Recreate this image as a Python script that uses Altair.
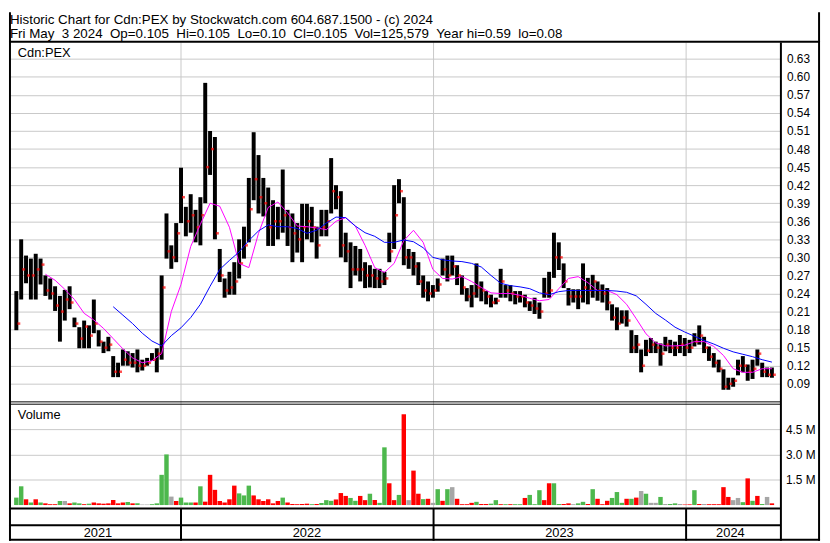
import altair as alt
import pandas as pd

# ---------- layout helpers (reference pixel -> chart pixel) ----------
SX = 822 / 830
SY = 535 / 543


def X(v):
    return round(v * SX, 2)


def Y(v):
    return round(v * SY, 2)


FONT = "Liberation Sans"

# ---------- data (weekly) ----------
first_week = "2021-05-08"

hi = [0.244, 0.33, 0.303, 0.298, 0.306, 0.298, 0.27, 0.265, 0.252, 0.236,
      0.246, 0.252, 0.20, 0.184, 0.195, 0.187, 0.23, 0.179, 0.16, 0.168,
      0.136, 0.125, 0.147, 0.144, 0.141, 0.147, 0.13, 0.133, 0.141, 0.149,
      0.27, 0.373, 0.32, 0.357, 0.449, 0.384, 0.405, 0.379, 0.40, 0.59,
      0.51, 0.50, 0.314, 0.265, 0.276, 0.292, 0.33, 0.351, 0.432, 0.508,
      0.47, 0.432, 0.416, 0.395, 0.384, 0.446, 0.379, 0.373, 0.357, 0.389,
      0.389, 0.384, 0.351, 0.379, 0.379, 0.465, 0.42, 0.41, 0.341, 0.325,
      0.319, 0.314, 0.292, 0.287, 0.281, 0.281, 0.276, 0.341, 0.42, 0.43,
      0.40, 0.314, 0.309, 0.292, 0.27, 0.26, 0.254, 0.265, 0.298, 0.303,
      0.303, 0.287, 0.27, 0.249, 0.254, 0.29, 0.26, 0.244, 0.238, 0.233,
      0.281, 0.254, 0.254, 0.244, 0.244, 0.238, 0.227, 0.233, 0.225, 0.266,
      0.276, 0.341, 0.325, 0.29, 0.249, 0.247, 0.247, 0.29, 0.266, 0.271,
      0.26, 0.255, 0.249, 0.222, 0.217, 0.212, 0.212, 0.179, 0.171, 0.147,
      0.163, 0.166, 0.16, 0.157, 0.168, 0.163, 0.16, 0.171, 0.166, 0.163,
      0.174, 0.187, 0.168, 0.152, 0.141, 0.13, 0.114, 0.10, 0.10, 0.13,
      0.136, 0.122, 0.13, 0.147, 0.125, 0.117, 0.117]

lo = [0.179, 0.23, 0.257, 0.23, 0.23, 0.255, 0.236, 0.23, 0.211, 0.16,
      0.195, 0.214, 0.184, 0.149, 0.149, 0.149, 0.174, 0.152, 0.141, 0.144,
      0.101, 0.101, 0.12, 0.12, 0.117, 0.109, 0.112, 0.12, 0.128, 0.109,
      0.13, 0.298, 0.281, 0.292, 0.357, 0.335, 0.341, 0.325, 0.32, 0.39,
      0.437, 0.33, 0.259, 0.233, 0.238, 0.238, 0.265, 0.298, 0.325, 0.395,
      0.373, 0.368, 0.319, 0.319, 0.33, 0.341, 0.319, 0.292, 0.308, 0.292,
      0.33, 0.325, 0.298, 0.335, 0.335, 0.373, 0.38, 0.30, 0.292, 0.249,
      0.27, 0.26, 0.249, 0.25, 0.249, 0.249, 0.254, 0.292, 0.314, 0.39,
      0.287, 0.281, 0.27, 0.254, 0.233, 0.227, 0.233, 0.243, 0.27, 0.26,
      0.27, 0.254, 0.238, 0.227, 0.217, 0.233, 0.227, 0.222, 0.217, 0.222,
      0.233, 0.233, 0.227, 0.222, 0.225, 0.217, 0.211, 0.206, 0.198, 0.233,
      0.233, 0.266, 0.279, 0.249, 0.22, 0.225, 0.214, 0.225, 0.222, 0.233,
      0.228, 0.225, 0.212, 0.195, 0.179, 0.19, 0.185, 0.141, 0.141, 0.109,
      0.136, 0.141, 0.141, 0.12, 0.144, 0.141, 0.136, 0.141, 0.136, 0.141,
      0.152, 0.155, 0.141, 0.128, 0.117, 0.109, 0.08, 0.08, 0.085, 0.104,
      0.109, 0.095, 0.098, 0.12, 0.101, 0.101, 0.10]

cl = [0.19, 0.28, 0.27, 0.27, 0.28, 0.288, 0.245, 0.24, 0.22, 0.21,
      0.23, 0.225, 0.19, 0.165, 0.185, 0.17, 0.19, 0.16, 0.15, 0.155,
      0.11, 0.11, 0.13, 0.125, 0.125, 0.12, 0.12, 0.125, 0.13, 0.14,
      0.25, 0.31, 0.30, 0.34, 0.40, 0.36, 0.37, 0.35, 0.37, 0.45,
      0.48, 0.34, 0.27, 0.245, 0.25, 0.26, 0.29, 0.32, 0.38, 0.43,
      0.40, 0.39, 0.35, 0.36, 0.36, 0.37, 0.35, 0.34, 0.33, 0.35,
      0.36, 0.35, 0.32, 0.35, 0.36, 0.41, 0.40, 0.32, 0.31, 0.28,
      0.28, 0.28, 0.27, 0.27, 0.265, 0.26, 0.265, 0.31, 0.37, 0.41,
      0.30, 0.30, 0.285, 0.26, 0.245, 0.24, 0.245, 0.255, 0.28, 0.27,
      0.285, 0.27, 0.25, 0.235, 0.24, 0.25, 0.245, 0.235, 0.225, 0.228,
      0.26, 0.245, 0.24, 0.235, 0.235, 0.225, 0.22, 0.215, 0.21, 0.24,
      0.245, 0.30, 0.30, 0.26, 0.235, 0.235, 0.235, 0.25, 0.245, 0.26,
      0.245, 0.24, 0.225, 0.20, 0.19, 0.20, 0.195, 0.15, 0.155, 0.12,
      0.145, 0.155, 0.15, 0.14, 0.155, 0.15, 0.15, 0.155, 0.15, 0.15,
      0.16, 0.17, 0.15, 0.135, 0.125, 0.115, 0.085, 0.09, 0.095, 0.12,
      0.12, 0.11, 0.115, 0.14, 0.11, 0.105, 0.105]

# weekly volume, millions of shares
vol_m = [0.44, 1.11, 0.34, 0.15, 0.34, 0.15, 0.10, 0.05, 0.05, 0.24,
         0.24, 0.10, 0.15, 0.10, 0.05, 0.08, 0.15, 0.10, 0.08, 0.10,
         0.30, 0.10, 0.15, 0.18, 0.10, 0.10, 0.03, 0.03, 0.05, 0.10,
         1.79, 3.00, 0.50, 0.24, 0.44, 0.15, 0.15, 0.15, 1.11, 0.20,
         1.79, 0.90, 0.24, 0.15, 0.34, 1.15, 0.69, 0.57, 1.15, 0.57,
         0.34, 0.24, 0.34, 0.10, 0.24, 0.44, 0.15, 0.06, 0.05, 0.06,
         0.08, 0.05, 0.06, 0.12, 0.29, 0.25, 0.33, 0.71, 0.54, 0.42,
         0.25, 0.54, 0.29, 0.67, 0.30, 0.13, 3.42, 1.29, 0.29, 0.60,
         5.38, 0.29, 2.04, 0.67, 0.35, 0.37, 0.13, 0.94, 0.25, 0.94,
         1.06, 0.37, 0.05, 0.05, 0.13, 0.19, 0.06, 0.06, 0.08, 0.29,
         0.05, 0.05, 0.05, 0.05, 0.05, 0.42, 0.60, 0.05, 0.88, 0.29,
         1.29, 1.29, 0.06, 0.06, 0.10, 0.05, 0.10, 0.19, 0.06, 0.94,
         0.37, 0.05, 0.25, 0.42, 0.77, 0.13, 0.37, 0.37, 0.44, 0.83,
         0.67, 0.13, 0.13, 0.48, 0.06, 0.06, 0.10, 0.06, 0.03, 0.04,
         0.88, 0.06, 0.06, 0.05, 0.05, 0.05, 1.06, 0.48, 0.29, 0.42,
         0.17, 1.58, 0.25, 0.54, 0.06, 0.48, 0.10]

# G = up day (green), R = down day (red), Y = unchanged (grey)
vol_dir = list("GGRGRGRRRG" "YRGGRGRRRR" "RRRGRGYYGG" "GGYRGGGRGR"
               "RRRRRRGGGR" "RRRRRGRRRR" "RGRGGGRRRG" "GRRGRGGRRG"
               "RYRRGRYGRG" "YRRRRGRRGG" "RGRGGRGGGR" "RGGRRYGGRG"
               "RRRGGGRGRY" "GYYGYGGYRR" "GRYRRRRRYY" "GRGRGYR")

# moving averages, every two weeks
ma_short = [None] * 3 + [
    0.272, 0.262, 0.247, 0.230, 0.207, 0.196, 0.182, 0.165, 0.148, 0.133,
    0.125, 0.128, 0.140, 0.21, 0.255, 0.318, 0.355, 0.39, 0.385, 0.35,
    0.29, 0.283, 0.34, 0.383, 0.392, 0.374, 0.352, 0.351, 0.349, 0.346,
    0.36, 0.366, 0.352, 0.32, 0.283, 0.275, 0.29, 0.328, 0.345, 0.325,
    0.28, 0.265, 0.264, 0.268, 0.26, 0.25, 0.241, 0.24, 0.24, 0.237,
    0.232, 0.228, 0.23, 0.248, 0.265, 0.268, 0.258, 0.245, 0.245, 0.238,
    0.222, 0.198, 0.173, 0.158, 0.153, 0.153, 0.154, 0.16, 0.16, 0.152,
    0.137, 0.115, 0.109, 0.109, 0.115, 0.115]

ma_long = [None] * 10 + [
    0.218, 0.204, 0.19, 0.174, 0.161, 0.153, 0.17, 0.183, 0.2, 0.222,
    0.252, 0.28, 0.295, 0.309, 0.328, 0.344, 0.354, 0.351, 0.351, 0.348,
    0.34, 0.345, 0.357, 0.367, 0.366, 0.352, 0.341, 0.335, 0.325, 0.325,
    0.329, 0.326, 0.316, 0.30, 0.296, 0.294, 0.293, 0.29, 0.284, 0.27,
    0.257, 0.253, 0.251, 0.248, 0.241, 0.238, 0.243, 0.245, 0.245, 0.245,
    0.245, 0.245, 0.244, 0.242, 0.236, 0.222, 0.207, 0.196, 0.184, 0.176,
    0.169, 0.162, 0.156, 0.149, 0.143, 0.139, 0.135, 0.13, 0.126]

price_ticks = [0.09, 0.12, 0.15, 0.18, 0.21, 0.24, 0.27, 0.30, 0.33,
               0.36, 0.39, 0.42, 0.45, 0.48, 0.51, 0.54, 0.57, 0.60, 0.63]
vol_ticks = [1500000, 3000000, 4500000]

years = ["2021", "2022", "2023", "2024"]
year_mid = ["2021-09-03", "2022-07-02", "2023-07-02", "2024-03-05"]
year_starts = ["2022-01-01", "2023-01-01", "2024-01-01"]

header1 = "Historic Chart for Cdn:PEX by Stockwatch.com 604.687.1500 - (c) 2024"
header2 = ("Fri May\u00a0 3 2024\u00a0 Op=0.105\u00a0 Hi=0.105\u00a0 Lo=0.10\u00a0 "
           "Cl=0.105\u00a0 Vol=125,579\u00a0 Year hi=0.59\u00a0 lo=0.08")

# ---------- tables ----------
weeks = pd.date_range(first_week, periods=len(hi), freq="7D")
ma_weeks = pd.date_range(first_week, periods=len(ma_short), freq="14D")

price = pd.DataFrame({"date": weeks, "hi": hi, "lo": lo, "cl": cl})
volume = pd.DataFrame({"date": weeks, "vol": [v * 1e6 for v in vol_m], "dir": vol_dir})
ma = pd.DataFrame({"date": ma_weeks, "ma_short": ma_short, "ma_long": ma_long})
ystarts = pd.DataFrame({"date": pd.to_datetime(year_starts)})
ylabels = pd.DataFrame({"date": pd.to_datetime(year_mid), "label": years})
blank = pd.DataFrame({"k": [0]})

# ---------- scales / axes ----------
xs = alt.Scale(domain=[alt.DateTime(year=2021, month=5, date=5),
                       alt.DateTime(year=2024, month=5, date=10)],
               range=[X(0.34), X(789.1)])


def xenc(field="date"):
    return alt.X(f"{field}:T", scale=xs, axis=None)


p_scale = alt.Scale(domain=[0.0596, 0.6572], range=[Y(400.5), Y(31)], zero=False, nice=False)
p_axis = alt.Axis(orient="right", values=price_ticks, format=".2f", grid=True,
                  gridColor="#c8c8c8", gridWidth=1, ticks=False, domain=False,
                  labelPadding=6, labelFont=FONT, labelFontSize=12, labelColor="#000000",
                  labelOverlap=False)

v_scale = alt.Scale(domain=[0, 6000000], range=[Y(506.3), Y(402.3)], zero=True, nice=False)
v_axis = alt.Axis(orient="right", values=vol_ticks,
                  labelExpr="format(datum.value / 1000000, '.1f') + ' M'",
                  grid=True, gridColor="#c8c8c8", gridWidth=1, ticks=False, domain=False,
                  labelPadding=5, labelFont=FONT, labelFontSize=12, labelColor="#000000",
                  labelOverlap=False)

# ---------- price panel ----------
bars = alt.Chart(price).mark_rule(color="black", strokeWidth=4).encode(
    x=xenc(), y=alt.Y("hi:Q", scale=p_scale, axis=p_axis, title=None), y2="lo:Q")
closes = alt.Chart(price).mark_tick(color="#ff0000", thickness=2.5, size=3,
                                    orient="horizontal", xOffset=2.5).encode(
    x=xenc(), y=alt.Y("cl:Q", scale=p_scale, axis=p_axis, title=None))
ma1 = alt.Chart(ma).transform_filter("isValid(datum.ma_short)").mark_line(
    color="#ff00ff", strokeWidth=1).encode(
    x=xenc(), y=alt.Y("ma_short:Q", scale=p_scale, axis=p_axis, title=None))
ma2 = alt.Chart(ma).transform_filter("isValid(datum.ma_long)").mark_line(
    color="#0000ff", strokeWidth=1).encode(
    x=xenc(), y=alt.Y("ma_long:Q", scale=p_scale, axis=p_axis, title=None))
price_layer = alt.layer(bars, closes, ma1, ma2)

# ---------- volume panel ----------
vbars = alt.Chart(volume).mark_bar(size=4.5).encode(
    x=xenc(),
    y=alt.Y("vol:Q", scale=v_scale, axis=v_axis, title=None),
    y2=alt.value(Y(509)),
    color=alt.Color("dir:N", scale=alt.Scale(domain=["G", "R", "Y"],
                                             range=["#4db84d", "#ff0000", "#a6a6a6"]),
                    legend=None))

# ---------- frame ----------


def hline(ry, x0, x1, w, color="black"):
    return alt.Chart(blank).mark_rule(color=color, strokeWidth=w).encode(
        x=alt.value(x0), x2=alt.value(x1), y=alt.value(Y(ry)))


def vline(x, ry0, ry1, w, color="black"):
    return alt.Chart(blank).mark_rule(color=color, strokeWidth=w).encode(
        x=alt.value(x), y=alt.value(Y(ry0)), y2=alt.value(Y(ry1)))


def label(txt, rx, ry, size):
    return alt.Chart(pd.DataFrame({"t": [txt]})).mark_text(
        font=FONT, fontSize=size, align="left", baseline="alphabetic", color="black").encode(
        x=alt.value(X(rx)), y=alt.value(Y(ry)), text="t:N")


ygrid = alt.Chart(ystarts).mark_rule(color="#c8c8c8", strokeWidth=1).encode(
    x=xenc(), y=alt.value(Y(31)), y2=alt.value(Y(509)))
ysep = alt.Chart(ystarts).mark_rule(color="black", strokeWidth=2).encode(
    x=xenc(), y=alt.value(Y(510)), y2=alt.value(Y(543)))
ylab = alt.Chart(ylabels).mark_text(font=FONT, fontSize=13, align="center",
                                    baseline="alphabetic", color="black").encode(
    x=xenc(), y=alt.value(Y(539)), text="label:N")

frame = [
    hline(30.2, 0, X(829), 2),          # under header
    hline(400.3, 0, X(789), 1),         # bottom of price panel
    hline(402.7, 0, X(789), 1),         # top of volume panel
    hline(509.8, 0, X(789), 2),         # bottom of volume panel
    hline(527, 0, X(789), 2),           # middle of date band
    hline(542, 0, X(829), 2),           # outer bottom
    vline(1, 0, 543, 2),                # outer left
    vline(X(828), 0, 543, 2),           # outer right
    vline(X(789), 31, 543, 2),          # axis separator
]

texts = [
    label(header1, 1, 12.3, 13.5),
    label(header2, 1, 26.6, 13.5),
    label("Cdn:PEX", 9, 46, 13),
    label("Volume", 9, 418, 13),
]

chart = alt.layer(ygrid, vbars, price_layer, *frame, ysep, ylab, *texts).resolve_scale(
    y="independent"
).properties(
    width=round(X(789.1)), height=round(Y(543)), padding=0
).configure_view(strokeWidth=0)

chart.save("out.html", embed_options={"renderer": "svg", "actions": False})
